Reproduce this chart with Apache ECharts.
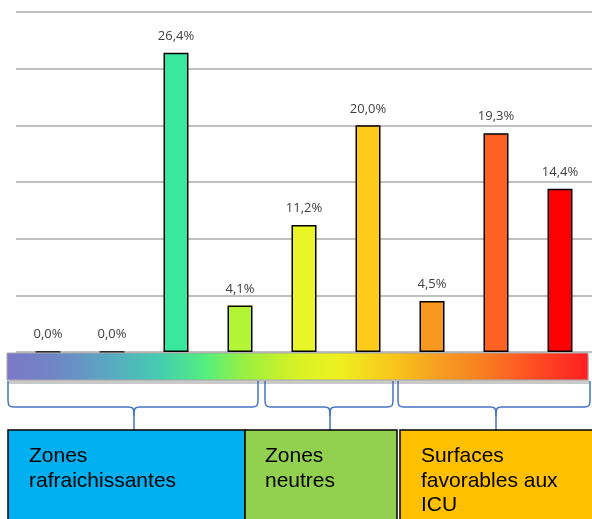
<!DOCTYPE html>
<html>
<head>
<meta charset="utf-8">
<script src="https://cdn.jsdelivr.net/npm/echarts@6/dist/echarts.min.js"></script>
<style>
  html, body { margin: 0; padding: 0; background: #fff; }
  #chart { width: 592px; height: 519px; }
</style>
</head>
<body>
<div id="chart"></div>
<script>
// Classes of surface temperature, from coolest to hottest
const categories = ['C1', 'C2', 'C3', 'C4', 'C5', 'C6', 'C7', 'C8', 'C9'];
// Share of the area in each class (%)
const shares = [0.0, 0.0, 26.4, 4.1, 11.2, 20.0, 4.5, 19.3, 14.4];
const barColors = ['#000000', '#000000', '#37E89E', '#B3F535', '#E9F526', '#FFCC1C', '#F7991E', '#FF6222', '#FF0000'];
// Y axis scale (%)
const yMin = 0, yMax = 30, yStep = 5;
// Group captions
const groupLabels = ['Zones\nrafraichissantes', 'Zones\nneutres', 'Surfaces\nfavorables aux\nICU'];
const groupColors = ['#00B0F0', '#92D050', '#FFC000'];

const fmt = v => v.toFixed(1).replace('.', ',') + '%';

const chart = echarts.init(document.getElementById('chart'), null, { renderer: 'canvas' });

const braceStyle = { fill: null, stroke: '#4472C4', lineWidth: 1.5 };
// Curly brace built from straight segments and cubic curves
function brace(x1, x2, tip) {
  const yTop = 381, yH = 407, yTip = 430, r = 6;
  const parts = [];
  const line = (a, b, c, d) => parts.push({ type: 'line', shape: { x1: a, y1: b, x2: c, y2: d }, style: braceStyle, z: 6 });
  const curve = (a, b, c, d, e, f, g, h) => parts.push({
    type: 'bezierCurve',
    shape: { x1: a, y1: b, cpx1: c, cpy1: d, cpx2: e, cpy2: f, x2: g, y2: h },
    style: braceStyle, z: 6
  });
  line(x1, yTop, x1, yH - 8);
  curve(x1, yH - 8, x1, yH - 1, x1 + 1, yH, x1 + r, yH);
  line(x1 + r, yH, tip - r, yH);
  curve(tip - r, yH, tip - 1, yH, tip, yH + 1, tip, yH + 9);
  line(tip, yH + 9, tip, yTip);
  curve(tip, yH + 9, tip, yH + 1, tip + 1, yH, tip + r, yH);
  line(tip + r, yH, x2 - r, yH);
  curve(x2 - r, yH, x2 - 1, yH, x2, yH - 1, x2, yH - 8);
  line(x2, yH - 8, x2, yTop);
  return parts;
}

const boxes = [
  { x: 8, w: 237, tx: 29 },
  { x: 245, w: 152, tx: 265 },
  { x: 400, w: 200, tx: 421 }
];

let graphics = [
  // shadow under the colour scale
  { type: 'rect', shape: { x: 9, y: 356, width: 580, height: 28 }, style: { fill: '#C9C9C9' }, z: 5 },
  // colour scale
  {
    type: 'rect', shape: { x: 7, y: 353, width: 581, height: 27 },
    style: {
      fill: new echarts.graphic.LinearGradient(0, 0, 1, 0, [
        { offset: 0.00, color: '#7A78C8' },
        { offset: 0.08, color: '#7185C6' },
        { offset: 0.17, color: '#5AA6C2' },
        { offset: 0.26, color: '#45CBB0' },
        { offset: 0.34, color: '#52EE80' },
        { offset: 0.41, color: '#9AF040' },
        { offset: 0.50, color: '#D8F224' },
        { offset: 0.57, color: '#EEF020' },
        { offset: 0.66, color: '#F8C81A' },
        { offset: 0.74, color: '#F7A020' },
        { offset: 0.82, color: '#F87E22' },
        { offset: 0.90, color: '#FF5022' },
        { offset: 1.00, color: '#FF1E22' }
      ]),
      stroke: '#A8A8A8', lineWidth: 1
    },
    z: 6
  }
];
graphics = graphics.concat(brace(8, 258, 134), brace(265, 393, 330), brace(398, 590, 496));

boxes.forEach((b, i) => {
  graphics.push({
    type: 'rect', shape: { x: b.x, y: 430, width: b.w, height: 100 },
    style: { fill: groupColors[i], stroke: '#000', lineWidth: 1.5 }, z: 7
  });
  graphics.push({
    type: 'text', x: b.tx, y: 444,
    style: {
      text: groupLabels[i], fill: '#000',
      font: '21px "Liberation Sans", Arial, sans-serif',
      lineHeight: 24.5, verticalAlign: 'top', align: 'left'
    },
    z: 8
  });
});

chart.setOption({
  animation: false,
  grid: { left: 16, right: 0, top: 12, bottom: 167 },
  xAxis: {
    type: 'category', data: categories,
    axisLine: { show: false }, axisTick: { show: false }, axisLabel: { show: false }
  },
  yAxis: {
    type: 'value', min: yMin, max: yMax, interval: yStep,
    axisLine: { show: false }, axisTick: { show: false }, axisLabel: { show: false },
    splitLine: { lineStyle: { color: '#ABABAB', width: 1.5 } }
  },
  series: [{
    type: 'bar',
    data: shares.map((v, i) => ({ value: v, itemStyle: { color: barColors[i] } })),
    barWidth: 25,
    itemStyle: { borderColor: '#000', borderWidth: 1.5 },
    label: {
      show: true, position: 'top', distance: 10,
      formatter: p => fmt(p.value),
      color: '#404040', fontSize: 13, fontFamily: '"Open Sans", sans-serif'
    },
    z: 3
  }],
  graphic: graphics
});
</script>
</body>
</html>
